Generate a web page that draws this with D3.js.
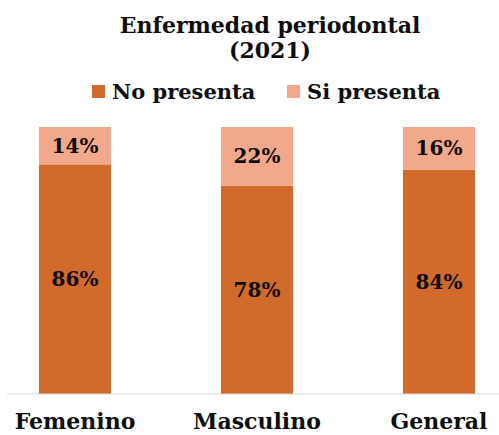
<!DOCTYPE html>
<html><head><meta charset="utf-8">
<script src="https://cdn.jsdelivr.net/npm/d3@7"></script>
<style>body{margin:0;background:#fff}svg{display:block}</style>
</head><body>
<svg id="c" width="499" height="435"></svg>
<script>
const categories = ["Femenino", "Masculino", "General"];
const seriesNames = ["No presenta", "Si presenta"];
const noPresenta = [86, 78, 84];
const siPresenta = [14, 22, 16];
const titleLines = ["Enfermedad periodontal", "(2021)"];

const colors = {"No presenta": "#d16a2b", "Si presenta": "#f2a88b"};
const font = "'DejaVu Serif', serif";

const svg = d3.select("#c");
const data = categories.map((c, i) => ({cat: c, "No presenta": noPresenta[i], "Si presenta": siPresenta[i]}));
const stack = d3.stack().keys(seriesNames)(data);

const x = d3.scaleBand().domain(categories).range([39, 475]).paddingInner(0.604).paddingOuter(0);
const y = d3.scaleLinear().domain([0, 100]).range([394, 127]);

// title
svg.append("g").selectAll("text").data(titleLines).join("text")
  .attr("x", 270).attr("y", (d, i) => 33 + i * 25)
  .attr("text-anchor", "middle")
  .style("font-family", font).style("font-weight", "bold").style("font-size", "22px")
  .attr("fill", "#0d0d0d").text(d => d);

// legend
const leg = svg.append("g");
const legItems = [{k: "No presenta", x: 92}, {k: "Si presenta", x: 287}];
legItems.forEach(it => {
  leg.append("rect").attr("x", it.x).attr("y", 85).attr("width", 13).attr("height", 13).attr("fill", colors[it.k]);
  leg.append("text").attr("x", it.x + 20).attr("y", 99)
    .style("font-family", font).style("font-weight", "bold").style("font-size", "21px")
    .attr("fill", "#0d0d0d").text(it.k);
});

// bars
const g = svg.append("g");
stack.forEach(s => {
  g.append("g").selectAll("rect").data(s).join("rect")
    .attr("x", d => x(d.data.cat)).attr("width", x.bandwidth())
    .attr("y", d => y(d[1])).attr("height", d => y(d[0]) - y(d[1]))
    .attr("fill", colors[s.key]);
  g.append("g").selectAll("text").data(s).join("text")
    .attr("x", d => x(d.data.cat) + x.bandwidth() / 2)
    .attr("y", d => (y(d[0]) + y(d[1])) / 2 + 7)
    .attr("text-anchor", "middle")
    .style("font-family", font).style("font-weight", "bold").style("font-size", "20px")
    .attr("fill", "#0d0d0d").text(d => (d[1] - d[0]) + "%");
});

// axis
const ax = svg.append("g").attr("transform", "translate(0,394)")
  .call(d3.axisBottom(x).tickSize(0).tickPadding(19));
ax.select(".domain").remove();
ax.append("line").attr("x1", 7).attr("x2", 499).attr("y1", 0).attr("y2", 0).attr("stroke", "#d9d9d9").attr("stroke-width", 1);
ax.selectAll(".tick text").style("font-family", font).style("font-weight", "bold").style("font-size", "22px").attr("fill", "#0d0d0d");
</script>
</body></html>
